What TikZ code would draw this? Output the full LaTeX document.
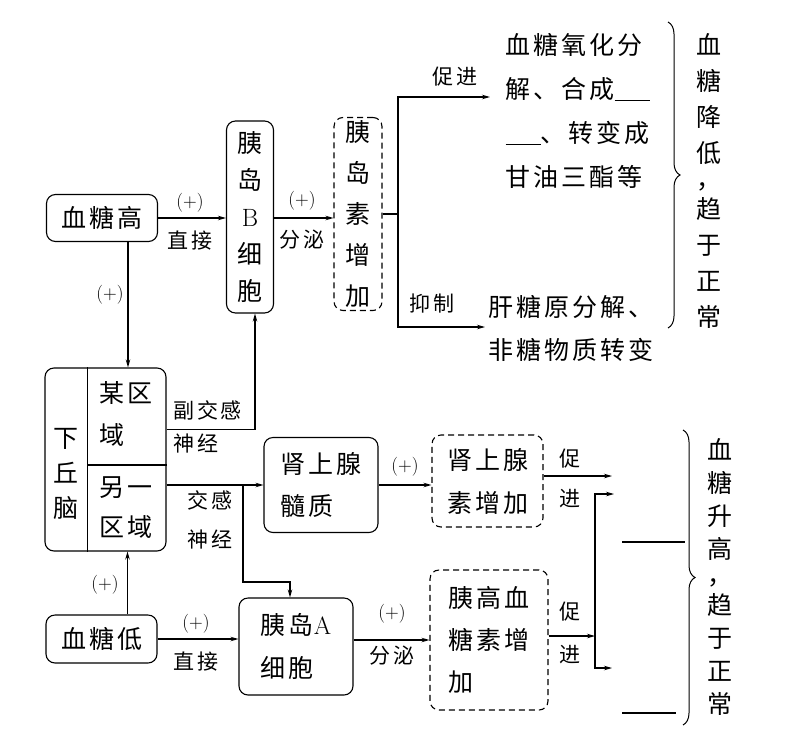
\documentclass[tikz,border=0pt]{standalone}
\usepackage{fontspec}
\newfontfamily\cjk[LetterSpace=12]{Noto Sans CJK SC}
\usetikzlibrary{positioning,arrows.meta,decorations.pathreplacing}

\begin{document}
\begin{tikzpicture}[x=1pt,y=-1pt,line width=1.1pt,
    every node/.style={font=\cjk\fontsize{25}{30}\selectfont,inner sep=0pt},
    box/.style={draw,rounded corners=9pt,align=center},
    dbox/.style={box,dash pattern=on 6pt off 4pt},
    lbl/.style={font=\cjk\fontsize{21}{25}\selectfont,align=center},
    plus/.style={font=\rmfamily\fontsize{19}{22}\selectfont},
    arr/.style={-{Stealth[length=8pt,width=4.5pt]}},
    brc/.style={decorate,decoration={brace,amplitude=12pt},line width=1pt}]
    \useasboundingbox (0,0) rectangle (794,747);
    % blood sugar high
    \node[box,minimum width=111pt,minimum height=47pt] (hi) at (102,218) {血糖高};
    \node[box,minimum width=47pt,minimum height=192pt,font=\cjk\fontsize{25}{37}\selectfont] (beta) at (250,217) {胰\\岛\\{\rmfamily B}\\细\\胞};
    \node[dbox,minimum width=48pt,minimum height=193pt,font=\cjk\fontsize{25}{41}\selectfont] (ins) at (358,214) {胰\\岛\\素\\增\\加};
    \draw[arr] (hi.east) -- (hi.east -| beta.west);
    \node[plus] at (190,203) {(+)};
    \node[lbl] at (190,241) {直接};
    \draw[arr] (beta.east |- hi.east) -- (hi.east -| ins.west);
    \node[plus] at (302,201) {(+)};
    \node[lbl] at (302,240) {分泌};
    \node[align=left,anchor=west,font=\cjk\fontsize{25}{44}\selectfont] (fall1) at (505,111)
      {血糖氧化分\\解、合成\rule[-2pt]{1.4em}{1pt}\\\rule[-2pt]{1.4em}{1pt}、转变成\\甘油三酯等};
    \node[align=left,anchor=west,font=\cjk\fontsize{25}{43}\selectfont] (fall2) at (488,328)
      {肝糖原分解、\\非糖物质转变};
    \coordinate (ib) at (398,214);
    \coordinate (pu) at (490,97);
    \coordinate (pd) at (485,327);
    \draw (ins.east) -- (ib);
    \draw[arr] (ib) |- (pu);
    \draw[arr] (ib) |- (pd);
    \node[lbl] at (455,77) {促进};
    \node[lbl] at (432,304) {抑制};
    \draw[brc] (668,22) -- (668,328);
    \node[align=center,font=\cjk\fontsize{25}{36}\selectfont] (fallt) at (709,181) {血\\糖\\降\\低\\[-8pt]\raisebox{2pt}{，}\\[-8pt]趋\\于\\正\\常};
    % hypothalamus
    \node[box,minimum width=121pt,minimum height=183pt] (hyp) at (105.5,459.5) {};
    \draw ([xshift=43pt]hyp.north west) -- ([xshift=43pt]hyp.south west);
    \draw ([xshift=43pt,yshift=-5.5pt]hyp.west) -- ([yshift=-5.5pt]hyp.east);
    \node[align=center,font=\cjk\fontsize{25}{35}\selectfont] (xqn) at (66,474) {下\\丘\\脑};
    \node[align=left,anchor=west,font=\cjk\fontsize{25}{42}\selectfont] (zone1) at (99,414) {某区\\域};
    \node[align=left,anchor=west,font=\cjk\fontsize{25}{40}\selectfont] (zone2) at (99,508) {另一\\区域};
    \draw[arr] ([xshift=26pt]hi.south) -- ([xshift=26pt]hi.south |- hyp.north);
    \node[plus] at (110,295) {(+)};
    \draw[arr] ([yshift=30pt]hyp.east) -| ([xshift=5pt]beta.south);
    \node[lbl,align=left,anchor=west,font=\cjk\fontsize{21}{33}\selectfont] (para) at (173,427) {副交感\\神经};
    % adrenal medulla
    \node[box,minimum width=114pt,minimum height=95pt,align=left,font=\cjk\fontsize{25}{42}\selectfont] (adr) at (321,485) {肾上腺\\髓质};
    \draw[arr] (hyp.east |- adr.west) -- (adr.west);
    \node[lbl,font=\cjk\fontsize{21}{39}\selectfont] (symp) at (210,520) {交感\\神经};
    \node[dbox,minimum width=111pt,minimum height=92pt,font=\cjk\fontsize{25}{43}\selectfont] (adrh) at (487.5,481) {肾上腺\\素增加};
    \draw[arr] (adr.east) -- (adr.east -| adrh.west);
    \node[plus] at (405,467) {(+)};
    \coordinate (r1) at (612,476);
    \draw[arr] (adrh.east |- r1) -- (r1);
    \node[lbl,font=\cjk\fontsize{21}{40}\selectfont] at (570,478) {促\\进};
    % blood sugar low
    \node[box,minimum width=111pt,minimum height=48pt] (lo) at (101.5,639) {血糖低};
    \draw[arr] ([xshift=26pt]lo.north) -- ([xshift=26pt]lo.north |- hyp.south);
    \node[plus] at (105,585) {(+)};
    \node[box,minimum width=114pt,minimum height=97pt,align=left,font=\cjk\fontsize{25}{43}\selectfont] (alpha) at (296,646.5) {胰岛{\rmfamily A}\\细胞};
    \coordinate (sj) at (243,485);
    \draw[arr] (sj) -- ++(0,97) -| ([xshift=-6pt]alpha.north);
    \draw[arr] (lo.east) -- (lo.east -| alpha.west);
    \node[plus] at (196,624) {(+)};
    \node[lbl] at (196,662) {直接};
    \node[dbox,minimum width=118pt,minimum height=140pt,align=left,font=\cjk\fontsize{25}{42}\selectfont] (glu) at (489,640) {胰高血\\糖素增\\加};
    \draw[arr] (alpha.east |- glu.west) -- (glu.west);
    \node[plus] at (392,614) {(+)};
    \node[lbl] at (392,656) {分泌};
    \coordinate (gb) at (595,636);
    \coordinate (r2) at (614,494);
    \coordinate (r3) at (612,668);
    \draw[arr] (glu.east |- gb) -- (gb);
    \draw[arr] (gb) |- (r2);
    \draw[arr] (gb) |- (r3);
    \node[lbl,font=\cjk\fontsize{21}{43}\selectfont] at (570,633) {促\\进};
    \draw (622,542) -- (685,542);
    \draw (622,713) -- (676,713);
    \draw[brc] (683,430) -- (683,725);
    \node[align=center,font=\cjk\fontsize{25}{33}\selectfont] (rise) at (720,577) {血\\糖\\升\\高\\[-5pt]\raisebox{2pt}{，}\\[-5pt]趋\\于\\正\\常};
\end{tikzpicture}
\end{document}
